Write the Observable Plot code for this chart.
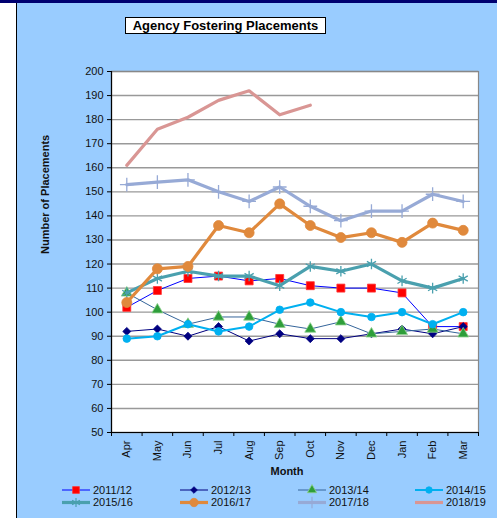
<!DOCTYPE html>
<html>
<head>
<meta charset="utf-8">
<script src="https://cdn.jsdelivr.net/npm/d3@7"></script>
<script src="https://cdn.jsdelivr.net/npm/@observablehq/plot@0.6"></script>
<style>
  html, body { margin:0; padding:0; width:497px; height:518px; overflow:hidden; background:#fff; }
  #bg { position:absolute; left:16px; top:0; width:481px; height:518px; background:#99CCFF; border-left:1.5px solid #000; box-sizing:border-box; }
  #topbar { position:absolute; left:0; top:0; width:497px; height:3px; background:#000070; }
  #chart { position:absolute; left:0; top:0; }
  #title { position:absolute; left:125px; top:17px; width:201px; height:17px; box-sizing:border-box; border:1px solid #000; background:#fff;
           font:bold 13px "Liberation Sans", Arial, sans-serif; text-align:center; line-height:15px; color:#000; }
  #legend { position:absolute; left:0; top:480px; }
</style>
</head>
<body>
<div id="bg"></div>
<div id="topbar"></div>
<div id="chart"></div>
<div id="title">Agency Fostering Placements</div>
<div id="legend"></div>
<script>
const months = ["Apr","May","Jun","Jul","Aug","Sep","Oct","Nov","Dec","Jan","Feb","Mar"];
const seriesNames = ["2011/12","2012/13","2013/14","2014/15","2015/16","2016/17","2017/18","2018/19"];
const s2011 = [102,109,114,115,113,114,111,110,110,108,94,94];
const s2012 = [92,93,90,94,88,91,89,89,91,93,91,94];
const s2013 = [108,101,95,98,98,95,93,96,91,92,93,91];
const s2014 = [89,90,95,92,94,101,104,100,98,100,95,100];
const s2015 = [108,114,117,115,115,111,119,117,120,113,110,114];
const s2016 = [104,118,119,136,133,145,136,131,133,129,137,134];
const s2017 = [153,154,155,150,146,152,144,138,142,142,149,146];
const s2018 = [161,176,181,188,192,182,186];
const yTicks = d3.range(50, 201, 10);

const allValues = [s2011, s2012, s2013, s2014, s2015, s2016, s2017, s2018];
const styles = [
  {stroke:"#0000FF", sw:1,   symbol:"square",   fill:"#FF0000", mstroke:"#FF3333", r:4.5},
  {stroke:"#000080", sw:1,   symbol:"diamond2", fill:"#000080", mstroke:"#000080", r:3.6},
  {stroke:"#35659A", sw:1,   symbol:"triangle", fill:"#2E9E3A", mstroke:"#8FD08F", r:4.1},
  {stroke:"#00B0F0", sw:2,   symbol:"circle",   fill:"#00B0F0", mstroke:"#00B0F0", r:3.8},
  {stroke:"#4AA0AE", sw:3.2, symbol:"asterisk", fill:"none",    mstroke:"#4AA0AE", r:5},
  {stroke:"#E0893C", sw:3.2, symbol:"circle",   fill:"#E0893C", mstroke:"#E0893C", r:5},
  {stroke:"#97AAD6", sw:3.2, symbol:"plus",     fill:"none",    mstroke:"#97AAD6", r:4.5},
  {stroke:"#D99694", sw:3.2, symbol:null,       fill:"none",    mstroke:"#D99694", r:2}
];

const rows = [];
allValues.forEach((vals, si) => vals.forEach((v, i) => rows.push({series: seriesNames[si], si, i, month: months[i], value: v})));

const seriesMarks = [];
seriesNames.forEach((name, si) => {
  const st = styles[si];
  const data = rows.filter(d => d.si === si);
  seriesMarks.push(Plot.line(data, {x:"i", y:"value", stroke: st.stroke, strokeWidth: st.sw, strokeLinejoin:"round"}));
  if (st.symbol) {
    seriesMarks.push(Plot.dot(data, {x:"i", y:"value", symbol: () => st.symbol, r: st.r,
      fill: st.fill, stroke: st.mstroke, strokeWidth: st.fill === "none" ? 1.3 : 0.8}));
  }
});

const chart = Plot.plot({
  width: 497, height: 518,
  marginLeft: 111, marginRight: 19, marginTop: 71, marginBottom: 86,
  style: {background:"transparent", fontFamily:'"Liberation Sans", Arial, sans-serif', fontSize:"11px", color:"#111"},
  x: {type:"linear", domain:[-0.5, 11.5]},
  y: {domain:[50, 200]},
  marks: [
    Plot.frame({fill:"#fff", stroke:"none"}),
    Plot.gridY(yTicks, {stroke:"#999", strokeOpacity:1, strokeWidth:1.4}),
    Plot.frame({stroke:"#888", strokeWidth:1.2, fill:"none"}),
    ...seriesMarks,
    Plot.axisY(yTicks, {tickSize:4, tickPadding:4, label:null, stroke:"#000", fontSize:11}),
    Plot.ruleX([-0.5], {stroke:"#000", strokeWidth:1.2}),
    Plot.ruleY([50], {stroke:"#000", strokeWidth:1.2}),
    Plot.axisX(d3.range(-0.5, 12, 1), {tickSize:4, tickFormat: () => "", label:null, stroke:"#000"}),
    Plot.axisX(d3.range(12), {tickSize:0, tickPadding:8, tickRotate:-90, tickFormat: i => months[i], label:null, fontSize:11}),
    Plot.text(["Month"], {frameAnchor:"bottom", lineAnchor:"middle", dy:39, dx:-8, fontWeight:"bold", fontSize:11}),
    Plot.text(["Number of Placements"], {frameAnchor:"left", lineAnchor:"middle", dx:-66, dy:2, rotate:-90, fontWeight:"bold", fontSize:11})
  ]
});
document.getElementById("chart").appendChild(chart);

// Legend
const legendX = [62, 180, 298, 415];
const legendY = [10, 22.5];
const lg = d3.select("#legend").append("svg").attr("width", 497).attr("height", 36)
  .style("font-family", '"Liberation Sans", Arial, sans-serif').style("font-size", "11px");
const symMap = {square: d3.symbolSquare, diamond2: d3.symbolDiamond2, triangle: d3.symbolTriangle, circle: d3.symbolCircle, asterisk: d3.symbolAsterisk, plus: d3.symbolPlus};
seriesNames.forEach((name, si) => {
  const st = styles[si];
  const x0 = legendX[si % 4], y0 = legendY[Math.floor(si / 4)];
  const g = lg.append("g");
  g.append("line").attr("x1", x0).attr("x2", x0 + 28).attr("y1", y0).attr("y2", y0)
    .attr("stroke", st.stroke).attr("stroke-width", st.sw);
  if (st.symbol) {
    const r = si === 1 ? 3 : (si === 5 ? 4.2 : st.r * 0.85);
    g.append("path").attr("transform", `translate(${x0 + 14},${y0})`)
      .attr("d", d3.symbol(symMap[st.symbol], Math.PI * r * r)())
      .attr("fill", st.fill).attr("stroke", st.mstroke).attr("stroke-width", st.fill === "none" ? 1.2 : 0.8);
  }
  g.append("text").attr("x", x0 + 31).attr("y", y0).attr("dy", "0.35em").attr("fill", "#111").text(name);
});
</script>
</body>
</html>
